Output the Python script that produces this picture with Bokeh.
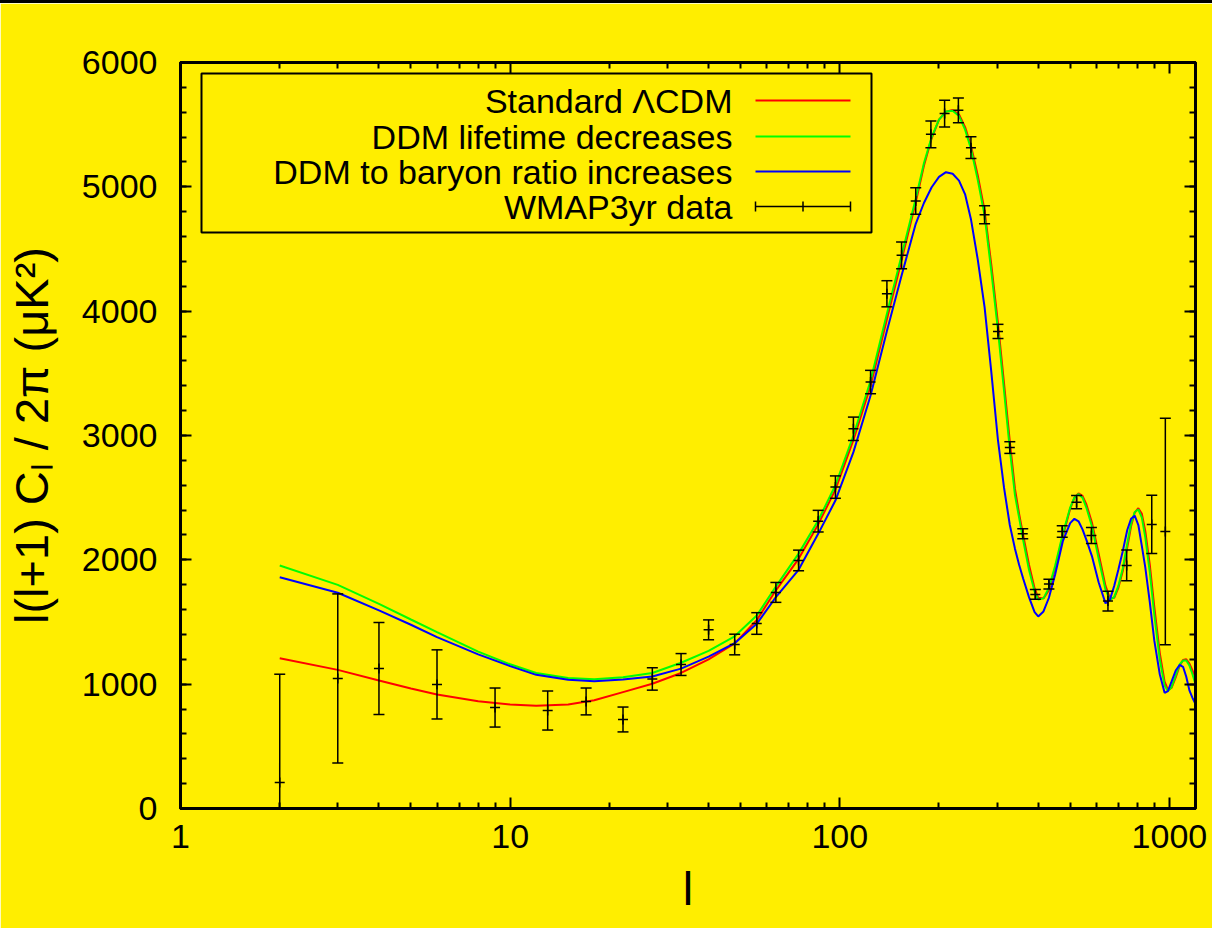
from bokeh.embed import file_html
from bokeh.layouts import column
from bokeh.models import (BoxAnnotation, ColumnDataSource, Div, FixedTicker, Label,
                          LinearAxis, LogAxis, NumeralTickFormatter, Range1d,
                          SingleIntervalTicker)
from bokeh.plotting import figure
from bokeh.resources import INLINE

# ---------------------------------------------------------------- data
# multipole grid for the theory curves
ell = [2, 3, 4, 5, 6, 8, 10, 12, 15, 18,
       22, 27, 33, 40, 48, 56, 64, 75, 86, 97,
       110, 124, 139, 154, 170, 180, 190, 200, 210, 220,
       230, 240, 250, 262, 275, 288, 302, 315, 328, 340,
       350, 360, 375, 390, 400, 415, 431, 450, 475, 500,
       515, 530, 545, 560, 582, 610, 640, 660, 680, 700,
       722, 745, 765, 785, 805, 825, 845, 872, 900, 935,
       967, 990, 1015, 1045, 1075, 1100, 1125, 1150, 1175, 1200]

lcdm = [1209, 1115, 1030, 965, 917, 862, 836, 826, 836, 870,
        936, 1003, 1090, 1200, 1328, 1515, 1755, 2008, 2285, 2565,
        2965, 3400, 3935, 4410, 4875, 5170, 5390, 5540, 5605, 5618,
        5582, 5480, 5330, 5095, 4810, 4380, 3900, 3420, 2950, 2570,
        2370, 2200, 1960, 1770, 1695, 1690, 1755, 1930, 2190, 2410,
        2500, 2535, 2515, 2445, 2300, 2050, 1790, 1690, 1695, 1775,
        1910, 2100, 2270, 2380, 2415, 2370, 2230, 1960, 1620, 1250,
        1020, 955, 970, 1055, 1150, 1195, 1200, 1165, 1110, 1050]

ddm_lifetime = [1954, 1799, 1646, 1520, 1418, 1262, 1160, 1090, 1050, 1040,
                1056, 1090, 1172, 1268, 1385, 1552, 1785, 2050, 2316, 2600,
                3000, 3440, 3980, 4448, 4904, 5190, 5400, 5540, 5605, 5612,
                5570, 5460, 5306, 5060, 4770, 4330, 3845, 3360, 2890, 2520,
                2340, 2160, 1920, 1745, 1680, 1690, 1775, 1950, 2210, 2420,
                2500, 2530, 2500, 2420, 2270, 2010, 1760, 1678, 1700, 1790,
                1930, 2130, 2290, 2385, 2405, 2340, 2180, 1900, 1560, 1200,
                990, 945, 975, 1070, 1160, 1190, 1190, 1150, 1080, 1000]

ddm_baryon = [1860, 1735, 1593, 1478, 1378, 1240, 1145, 1075, 1035, 1024,
              1038, 1062, 1125, 1222, 1330, 1485, 1700, 1920, 2209, 2477,
              2866, 3322, 3840, 4287, 4703, 4870, 4997, 5080, 5118, 5105,
              5050, 4940, 4740, 4420, 4032, 3520, 2960, 2580, 2280, 2090,
              1960, 1850, 1700, 1580, 1545, 1585, 1695, 1880, 2150, 2295,
              2330, 2310, 2245, 2160, 2030, 1820, 1650, 1680, 1790, 1920,
              2070, 2240, 2330, 2355, 2280, 2110, 1940, 1660, 1350, 1080,
              930, 945, 1020, 1110, 1155, 1140, 1060, 950, 890, 840]

# WMAP 3-year binned band powers
wmap_l = [2, 3, 4, 6, 9, 13, 17, 22, 27, 33,
          40, 48, 56, 64, 75, 86, 97, 110, 124, 139,
          154, 170, 189, 208, 229, 250, 275, 302, 328, 359,
          392, 431, 473, 523, 580, 651, 742, 884, 972]
wmap_val = [210, 1046, 1126, 998, 812, 788, 861, 716, 1042, 1158,
            1437, 1319, 1488, 1738, 1995, 2311, 2585, 3054, 3430, 4140,
            4449, 4886, 5422, 5589, 5615, 5315, 4776, 3837, 2903, 2210,
            1722, 1805, 2228, 2464, 2196, 1668, 1955, 2285, 2228]
wmap_err = [870, 680, 370, 278, 157, 157, 108, 100, 90, 88,
            80, 83, 87, 80, 83, 87, 90, 94, 94, 105,
            108, 107, 107, 107, 100, 87, 72, 57, 47, 40,
            40, 39, 47, 54, 64, 80, 124, 235, 910]

x_major = [1, 10, 100, 1000]
x_minor = [m * 10 ** e for e in range(3) for m in range(2, 10)]

legend_labels = ["Standard \u039bCDM", "DDM lifetime decreases",
                 "DDM to baryon ratio increases", "WMAP3yr data"]
x_title = "l"
y_title = "l(l+1) C\u2097 / 2\u03c0 (\u03bcK\u00b2)"

# ---------------------------------------------------------------- style
BG = "#ffee00"
FONT = "Liberation Sans"
TICK_SIZE = "34px"
RED, GREEN, BLUE = "#ff0000", "#00ff00", "#0000ff"

p = figure(width=1212, height=925, x_axis_type="log",
           x_range=Range1d(1, 1200), y_range=Range1d(0, 6000),
           output_backend="svg", toolbar_location=None,
           min_border_left=180, min_border_right=17,
           min_border_top=59, min_border_bottom=120,
           background_fill_color=BG, border_fill_color=BG)
p.grid.visible = False
p.outline_line_color = "black"
p.outline_line_width = 3

xticker = FixedTicker(ticks=x_major, minor_ticks=x_minor)
yticker = SingleIntervalTicker(interval=1000, num_minor_ticks=5)

p.add_layout(LogAxis(ticker=xticker), "above")
p.add_layout(LinearAxis(ticker=yticker), "right")
p.xaxis.ticker = xticker
p.yaxis.ticker = yticker
p.xaxis.formatter = NumeralTickFormatter(format="0")

for ax in p.xaxis + p.yaxis:
    ax.major_tick_in = 11
    ax.major_tick_out = 0
    ax.minor_tick_in = 6
    ax.minor_tick_out = 0
    ax.major_tick_line_width = 2
    ax.minor_tick_line_width = 2
    ax.axis_line_width = 3
    ax.major_label_text_font = FONT
    ax.major_label_text_color = "black"
    ax.major_label_text_font_size = TICK_SIZE

# mirrored axes carry ticks only
for ax in (p.above[0], p.right[0]):
    ax.major_label_text_color = None
    ax.major_label_text_font_size = "1px"
    ax.major_label_standoff = 0

bottom, left = p.below[0], p.left[0]
bottom.major_label_standoff = 16
left.major_label_standoff = 23

bottom.axis_label = x_title
left.axis_label = y_title
for ax, std in ((bottom, 11), (left, 21)):
    ax.axis_label_text_font = FONT
    ax.axis_label_text_font_style = "normal"
    ax.axis_label_text_font_size = "47px"
    ax.axis_label_text_color = "black"
    ax.axis_label_standoff = std

# ---------------------------------------------------------------- curves
p.line(ell, lcdm, line_color=RED, line_width=2)
p.line(ell, ddm_lifetime, line_color=GREEN, line_width=2)
p.line(ell, ddm_baryon, line_color=BLUE, line_width=2)

# ---------------------------------------------------------------- data with error bars
src = ColumnDataSource(dict(
    l=wmap_l, v=wmap_val,
    lo=[v - e for v, e in zip(wmap_val, wmap_err)],
    hi=[v + e for v, e in zip(wmap_val, wmap_err)],
))
p.segment(x0="l", y0="lo", x1="l", y1="hi", source=src, line_color="black", line_width=1.5)
p.scatter(x="l", y="hi", source=src, marker="dash", size=11, line_color="black", line_width=1.5)
p.scatter(x="l", y="lo", source=src, marker="dash", size=11, line_color="black", line_width=1.5)
p.scatter(x="l", y="v", source=src, marker="cross", size=10, line_color="black", line_width=1.5)

# ---------------------------------------------------------------- key (frame-relative screen units)
FL, FB = 180, 808          # frame left / bottom on the page


def sx(px):
    return px - FL


def sy(py):
    return FB - py


def screen_box(l, r, t, b, **kw):
    return BoxAnnotation(left=sx(l), right=sx(r), top=sy(t), bottom=sy(b),
                         left_units="screen", right_units="screen",
                         top_units="screen", bottom_units="screen", **kw)


p.add_layout(screen_box(201, 871, 73, 232, fill_alpha=0,
                        line_color="black", line_alpha=1, line_width=2))

rows = [100, 136, 171, 206]
colors = [RED, GREEN, BLUE, "black"]
for text, row, c in zip(legend_labels, rows, colors):
    p.add_layout(Label(x=sx(732), y=sy(row), x_units="screen", y_units="screen",
                       text=text, text_align="right", text_baseline="middle",
                       text_font=FONT, text_font_size=TICK_SIZE, text_color="black"))
    h = 1.0 if c != "black" else 0.75
    p.add_layout(screen_box(755, 850, row - h, row + h,
                            fill_color=c, fill_alpha=1, line_color=None))
for cx in (755, 802.5, 850):
    p.add_layout(screen_box(cx - 0.75, cx + 0.75, rows[3] - 5, rows[3] + 5,
                            fill_color="black", fill_alpha=1, line_color=None))

top_bar = Div(width=1212, height=3, margin=0, styles={"background-color": "black"})
page = column(top_bar, p, spacing=0)

open("out.html", "w").write(file_html(page, INLINE))
